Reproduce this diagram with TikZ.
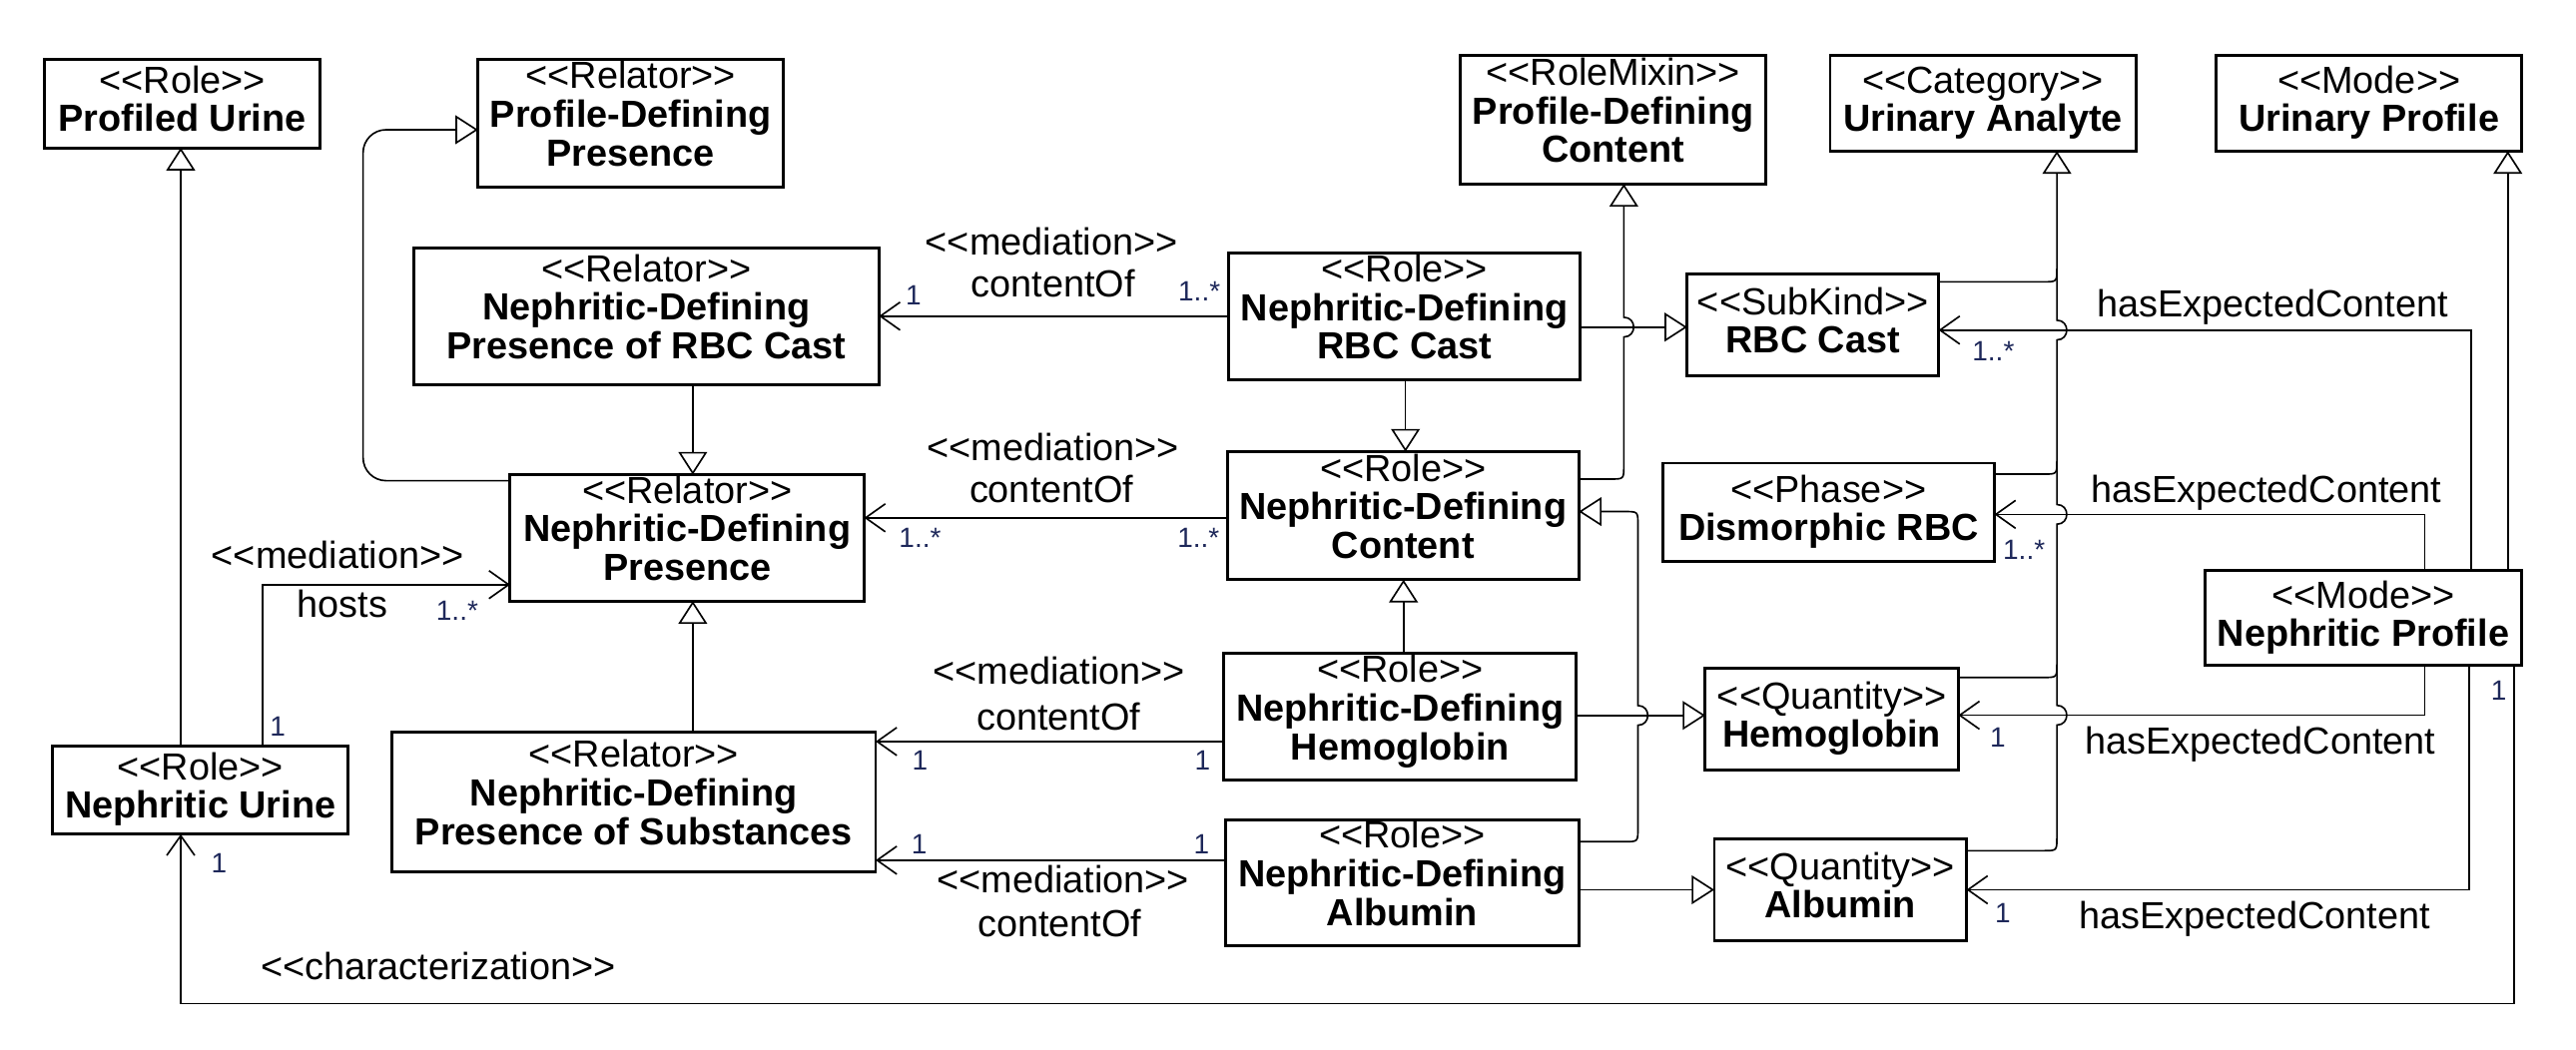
\documentclass[tikz,border=0pt]{standalone}
\usepackage{fontspec}
\setmainfont{Liberation Sans}
\usetikzlibrary{arrows.meta}
\definecolor{multc}{RGB}{30,40,90}
\newcommand\st[1]{<\kern0pt<#1>\kern0pt>}
\newcommand\clsTwo[7]{%
  \node[clsbox, minimum width={#4-#2}, minimum height={#5-#3}] (#1) at ({(#2+#4)/2},{(#3+#5)/2}) {};
  \node[stx] (#1-s) at ([yshift=6pt]#1.center) {\st{#6}};
  \node[bnx] (#1-n) at ([yshift=-17pt]#1.center) {#7};
}
\newcommand\clsThree[8]{%
  \node[clsbox, minimum width={#4-#2}, minimum height={#5-#3}] (#1) at ({(#2+#4)/2},{(#3+#5)/2}) {};
  \node[stx] (#1-s) at ([yshift=21pt]#1.center) {\st{#6}};
  \node[bnx] (#1-a) at ([yshift=-2.5pt]#1.center) {#7};
  \node[bnx] (#1-b) at ([yshift=-26pt]#1.center) {#8};
}
\begin{document}
\begin{tikzpicture}[x=1pt,y=-1pt,
  clsbox/.style={draw, line width=1.8pt, fill=white, inner sep=0pt, outer sep=0pt, rectangle},
  stx/.style={anchor=base, inner sep=0pt, font=\fontsize{23}{24}\selectfont},
  bnx/.style={anchor=base, inner sep=0pt, font=\fontsize{23}{24}\selectfont\bfseries},
  lab/.style={anchor=base, inner sep=0pt, font=\fontsize{23}{24}\selectfont},
  mult/.style={anchor=base, inner sep=0pt, text=multc, font=\fontsize{17}{18}\selectfont},
  gen/.style={draw, line width=1pt, -{Triangle[open,length=13.8pt,width=17.5pt]}},
  assoc/.style={draw, line width=1pt, -{Straight Barb[length=12pt,width=17pt]}},
  conn/.style={draw, line width=1pt}]
\useasboundingbox (0,0) rectangle (1568,639);
\fill[white] (0,0) rectangle (1568,639);

% classes
\clsTwo{pu}{27}{36}{195}{90}{Role}{Profiled Urine}
\clsThree{pdp}{291}{36}{477}{114}{Relator}{Profile-Defining}{Presence}
\clsThree{pdc}{889}{34}{1075}{112}{RoleMixin}{Profile-Defining}{Content}
\clsTwo{ua}{1114}{34}{1300}{92}{Category}{Urinary Analyte}
\clsTwo{up}{1349}{34}{1535}{92}{Mode}{Urinary Profile}
\clsThree{ndprbc}{252}{151}{535}{234}{Relator}{Nephritic-Defining}{Presence of RBC Cast}
\clsThree{ndrbc}{748}{154}{962}{231.5}{Role}{Nephritic-Defining}{RBC Cast}
\clsTwo{sk}{1027}{167}{1180}{229}{SubKind}{RBC Cast}
\clsThree{ndp}{310.5}{289}{526}{366}{Relator}{Nephritic-Defining}{Presence}
\clsThree{ndc}{747}{275}{961}{353}{Role}{Nephritic-Defining}{Content}
\clsTwo{dis}{1012}{282}{1214}{342}{Phase}{Dismorphic RBC}
\clsTwo{np}{1342}{347.5}{1535}{405}{Mode}{Nephritic Profile}
\clsTwo{nu}{32}{454}{212}{508}{Role}{Nephritic Urine}
\clsThree{ndps}{238.5}{445.5}{533}{531}{Relator}{Nephritic-Defining}{Presence of Substances}
\clsThree{ndh}{745}{398}{959.5}{475}{Role}{Nephritic-Defining}{Hemoglobin}
\clsTwo{qh}{1038}{407}{1192}{469}{Quantity}{Hemoglobin}
\clsThree{nda}{746}{499}{961}{576}{Role}{Nephritic-Defining}{Albumin}
\clsTwo{qa}{1043.5}{511}{1197}{573}{Quantity}{Albumin}

% generalizations
\draw[gen] (110,0 |- nu.north) -- (110,0 |- pu.south);
\draw[gen, rounded corners=14pt] (ndp.west |- 0,292.7) -- (221,292.7) -- (221,79) -- (pdp.west |- 0,79);
\draw[gen] (421.7,0 |- ndprbc.south) -- (421.7,0 |- ndp.north);
\draw[gen] (421.7,0 |- ndps.north) -- (421.7,0 |- ndp.south);
\draw[gen] (855.5,0 |- ndrbc.south) -- (855.5,0 |- ndc.north);
\draw[gen] (854.3,0 |- ndh.north) -- (854.3,0 |- ndc.south);
\draw[gen] (ndrbc.east |- 0,199.2) -- (sk.west |- 0,199.2);
\draw[gen] (ndh.east |- 0,435.6) -- (qh.west |- 0,435.6);
\draw[gen] (nda.east |- 0,541.8) -- (qa.west |- 0,541.8);
\draw[gen] (ndc.east |- 0,291.7) -- (980.4,291.7) .. controls (988.4,291.7) .. (988.4,283.7)
  -- (988.4,205.2) .. controls (996.4,205.2) and (996.4,193.2) .. (988.4,193.2)
  -- (988.4,0 |- pdc.south);
\draw[gen] (nda.east |- 0,512.5) -- (989,512.5) .. controls (997,512.5) .. (997,504.5)
  -- (997,441.6) .. controls (1005,441.6) and (1005,429.6) .. (997,429.6)
  -- (997,319.5) .. controls (997,311.5) .. (989,311.5) -- (ndc.east |- 0,311.5);
\draw[gen] (qa.east |- 0,518) -- (1244,518) .. controls (1252,518) .. (1252,510)
  -- (1252,441.5) .. controls (1260,441.5) and (1260,429.5) .. (1252,429.5)
  -- (1252,319.2) .. controls (1260,319.2) and (1260,307.2) .. (1252,307.2)
  -- (1252,207) .. controls (1260,207) and (1260,195) .. (1252,195)
  -- (1252,0 |- ua.south);
\draw[conn] (sk.east |- 0,171.6) -- (1244,171.6) .. controls (1252,171.6) .. (1252,163.6);
\draw[conn] (dis.east |- 0,288.7) -- (1244,288.7) .. controls (1252,288.7) .. (1252,280.7);
\draw[conn] (qh.east |- 0,412.5) -- (1244,412.5) .. controls (1252,412.5) .. (1252,404.5);
\draw[gen] (1526.5,0 |- np.north) -- (1526.5,0 |- up.south);

% associations
\draw[assoc] (160,0 |- nu.north) -- (160,356) -- (ndp.west |- 0,356);
\draw[assoc] (1530.3,0 |- np.south) -- (1530.3,611) -- (110,611) -- (110,0 |- nu.south);
\draw[assoc] (ndrbc.west |- 0,192.5) -- (ndprbc.east |- 0,192.5);
\draw[assoc] (ndc.west |- 0,315.3) -- (ndp.east |- 0,315.3);
\draw[assoc] (ndh.west |- 0,451.5) -- (ndps.east |- 0,451.5);
\draw[assoc] (nda.west |- 0,523.8) -- (ndps.east |- 0,523.8);
\draw[assoc] (1504.3,0 |- np.north) -- (1504.3,201) -- (sk.east |- 0,201);
\draw[assoc] (1476,0 |- np.north) -- (1476,313.2) -- (dis.east |- 0,313.2);
\draw[assoc] (1476,0 |- np.south) -- (1476,435.5) -- (qh.east |- 0,435.5);
\draw[assoc] (1503,0 |- np.south) -- (1503,541.8) -- (qa.east |- 0,541.8);

% labels
\node[lab] (m1s) at (640,155.1) {\st{mediation}};
\node[lab] (m1c) at (641,181) {contentOf};
\node[mult] (m1a) at (556,185.4) {1};
\node[mult] (m1b) at (730,183.4) {1..*};
\node[lab] (m2s) at (641,280.4) {\st{mediation}};
\node[lab] (m2c) at (640,306) {contentOf};
\node[mult] (m2a) at (560,333.5) {1..*};
\node[mult] (m2b) at (729.5,333.5) {1..*};
\node[lab] (m3s) at (644.7,416.6) {\st{mediation}};
\node[lab] (m3c) at (644.4,444.3) {contentOf};
\node[mult] (m3a) at (560,469) {1};
\node[mult] (m3b) at (732,469) {1};
\node[mult] (m4a) at (559.5,520) {1};
\node[mult] (m4b) at (731.4,520) {1};
\node[lab] (m4s) at (647,543.9) {\st{mediation}};
\node[lab] (m4c) at (645,570.6) {contentOf};
\node[lab] (hs) at (205.5,345.9) {\st{mediation}};
\node[lab] (hh) at (208.3,375.8) {hosts};
\node[mult] (h1) at (278.3,377.9) {1..*};
\node[mult] (h2) at (169,448) {1};
\node[lab] (cs) at (266.7,596.4) {\st{characterization}};
\node[mult] (c1) at (133.3,531.5) {1};
\node[mult] (c2) at (1521,426.3) {1};
\node[lab] (e1) at (1383.3,193) {hasExpectedContent};
\node[mult] (e1m) at (1213.3,219.8) {1..*};
\node[lab] (e2) at (1379.5,306) {hasExpectedContent};
\node[mult] (e2m) at (1232,340.7) {1..*};
\node[lab] (e3) at (1375.8,459.3) {hasExpectedContent};
\node[mult] (e3m) at (1216,455.2) {1};
\node[lab] (e4) at (1372.5,565.5) {hasExpectedContent};
\node[mult] (e4m) at (1219,561.8) {1};
\end{tikzpicture}
\end{document}
